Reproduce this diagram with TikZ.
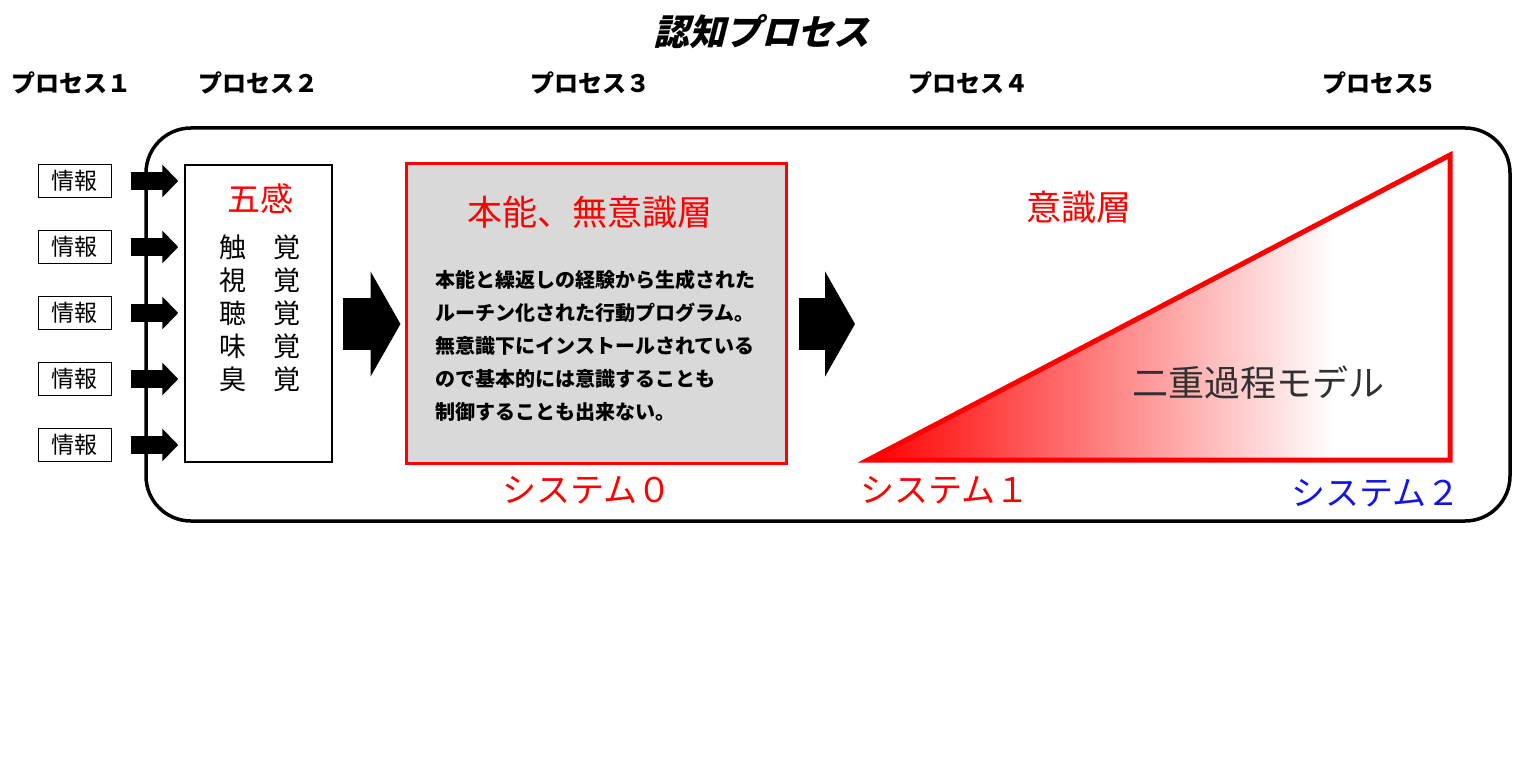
\documentclass[tikz,border=0pt]{standalone}
\usepackage{fontspec}
\newfontfamily\jp{Noto Sans CJK JP}
\newfontfamily\jpslant[FakeSlant=0.25]{Noto Sans CJK JP}
\usetikzlibrary{arrows.meta,positioning,calc}
\definecolor{boxgray}{HTML}{D9D9D9}
\definecolor{sysblue}{HTML}{1414E6}
\definecolor{modelgray}{HTML}{303030}

\begin{document}
\begin{tikzpicture}[
    x=1pt, y=-1pt,
    infobox/.style={draw, line width=1pt, minimum width=73pt, minimum height=33pt, inner sep=0pt, font=\jp\fontsize{23}{23}\selectfont},
    header/.style={font=\jp\bfseries\fontsize{24}{24}\selectfont},
    bigtext/.style={font=\jp\fontsize{35}{35}\selectfont},
    smallarrow/.style={line width=18pt, -{Triangle[width=32pt,length=16pt]}},
    bigarrow/.style={line width=52pt, -{Triangle[width=104pt,length=30pt]}}
]
    \useasboundingbox (0,0) rectangle (1526,773);

    % Titel und Prozesse
    \node[font=\jpslant\bfseries\fontsize{36}{36}\selectfont] (title) at (761,32) {認知プロセス};
    \node[header] (proc1) at (72,83) {プロセス１};
    \node[header] (proc2) at (258,83) {プロセス２};
    \node[header] (proc3) at (590,83) {プロセス３};
    \node[header] (proc4) at (968,83) {プロセス４};
    \node[header] (proc5) at (1378,83) {プロセス5};

    % Rahmen
    \draw[line width=3.5pt, rounded corners=45pt] (146,128) rectangle (1510,521);

    % Fuenf Sinne
    \node[draw, line width=1.5pt, minimum width=147pt, minimum height=297pt, inner sep=0pt] (senses) at (258.5,313.5) {};
    \node[bigtext, red, font=\jp\fontsize{33}{33}\selectfont] (sensetitle) at (260,199) {五感};
    \node[align=center, font=\jp\fontsize{27}{33}\selectfont] (senselist) at (259.5,313) {触　覚\\視　覚\\聴　覚\\味　覚\\臭　覚};

    % Informationen
    \foreach \i/\y in {1/181,2/247,3/313,4/379,5/445} {
        \node[infobox] (info\i) at (74.5,\y) {情報};
        \draw[smallarrow, shorten <=19pt, shorten >=6pt] (info\i.east) -- (info\i -| senses.west);
    }

    % System 0
    \node[draw=red, fill=boxgray, line width=3pt, minimum width=380pt, minimum height=299pt, inner sep=0pt] (instinct) at (596,313.5) {};
    \node[bigtext, red] (instincttitle) at (590,212) {本能、無意識層};
    \node[anchor=west, align=left, font=\jp\bfseries\fontsize{20}{33}\selectfont] (instincttext) at (432,346)
        {本能と繰返しの経験から生成された\\ルーチン化された行動プログラム。\\無意識下にインストールされている\\ので基本的には意識することも\\制御することも出来ない。};
    \node[bigtext, red, font=\jp\fontsize{34}{34}\selectfont] (sys0) at (587,490) {システム０};

    % Dreieck
    \coordinate (tl) at (868,460);
    \coordinate (tr) at (1450,460);
    \coordinate (tt) at (1450,155);
    \coordinate (flow) at (0,324);
    \begin{scope}
        \clip (tl) -- (tr) -- (tt) -- cycle;
        \shade[left color=red, right color=white] (868,155) rectangle (1335,460);
    \end{scope}
    \draw[red, line width=5pt] (tl) -- (tr) -- (tt) -- cycle;
    \node[bigtext, red] (conscious) at (1079,207) {意識層};
    \node[bigtext, modelgray, font=\jp\fontsize{36}{36}\selectfont] (dual) at (1258,383) {二重過程モデル};
    \node[bigtext, red, font=\jp\fontsize{34}{34}\selectfont] (sys1) at (945,490) {システム１};
    \node[bigtext, sysblue, font=\jp\fontsize{34}{34}\selectfont] (sys2) at (1376,493) {システム２};

    % Pfeile
    \draw[bigarrow, shorten <=10pt, shorten >=4pt] (senses.east |- flow) -- (instinct.west |- flow);
    \draw[bigarrow, shorten <=11pt, shorten >=13pt] (instinct.east |- flow) -- (tl |- flow);
\end{tikzpicture}
\end{document}
